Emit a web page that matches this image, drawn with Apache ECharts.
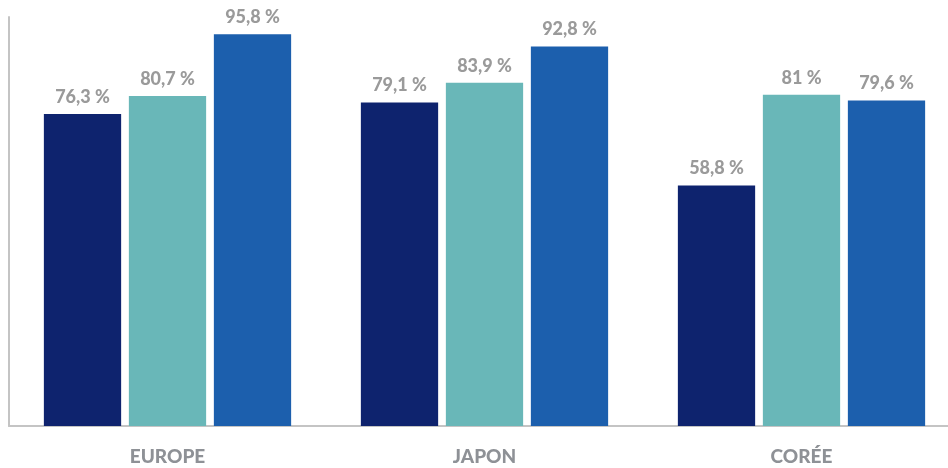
<!DOCTYPE html>
<html>
<head>
<meta charset="utf-8">
<script src="https://cdn.jsdelivr.net/npm/echarts@6/dist/echarts.min.js"></script>
<style>
  html, body { margin: 0; padding: 0; background: #fff; }
  #chart { width: 948px; height: 468px; }
</style>
</head>
<body>
<div id="chart"></div>
<script>
// catégories et valeurs (%)
var categories = ['EUROPE', 'JAPON', 'CORÉE'];
var serie1 = [76.3, 79.1, 58.8];
var serie2 = [80.7, 83.9, 81];
var serie3 = [95.8, 92.8, 79.6];

var colors = ['#0e236e', '#69b7b8', '#1c5fad'];

function fmt(p) {
    return String(p.value).replace('.', ',') + ' %';
}

var labelStyle = {
    show: true,
    position: 'top',
    distance: 8,
    formatter: fmt,
    color: '#9a9a9a',
    fontFamily: 'Lato',
    fontWeight: 900,
    fontSize: 18
};

var chart = echarts.init(document.getElementById('chart'));

var option = {
    animation: false,
    grid: { left: 9, width: 951, top: 17, bottom: 42, containLabel: false, outerBoundsMode: 'none' },
    xAxis: {
        type: 'category',
        data: categories,
        axisLine: { lineStyle: { color: '#c4c4c4', width: 2 } },
        axisTick: { show: false },
        axisLabel: {
            margin: 21,
            color: '#8e9196',
            fontFamily: 'Lato',
            fontWeight: 900,
            fontSize: 19
        }
    },
    yAxis: {
        type: 'value',
        min: 0,
        max: 100,
        axisLine: { show: true, lineStyle: { color: '#c4c4c4', width: 2 } },
        axisTick: { show: false },
        axisLabel: { show: false },
        splitLine: { show: false }
    },
    series: [
        { type: 'bar', data: serie1, itemStyle: { color: colors[0] }, label: labelStyle, barGap: '10%', barCategoryGap: '22%' },
        { type: 'bar', data: serie2, itemStyle: { color: colors[1] }, label: labelStyle },
        { type: 'bar', data: serie3, itemStyle: { color: colors[2] }, label: labelStyle }
    ]
};

chart.setOption(option);
</script>
</body>
</html>
